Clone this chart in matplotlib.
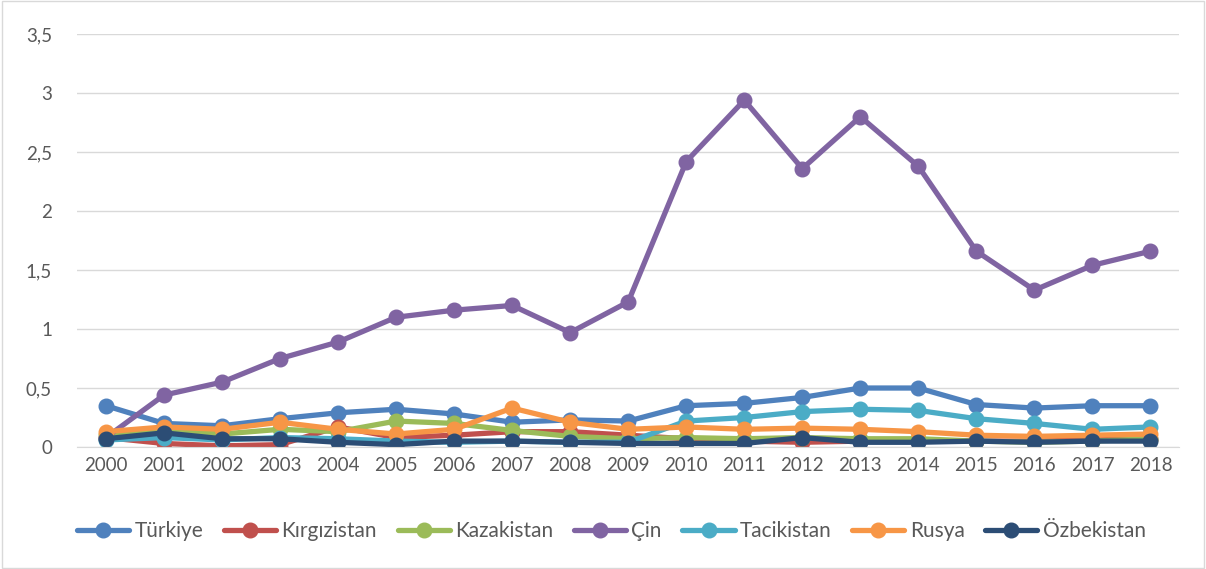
import matplotlib
matplotlib.use("Agg")
import matplotlib.pyplot as plt

plt.rcParams['font.family'] = ['Lato', 'DejaVu Sans']

years = [str(y) for y in range(2000, 2019)]
turkiye = [0.35, 0.20, 0.18, 0.24, 0.29, 0.32, 0.28, 0.21, 0.23, 0.22, 0.35, 0.37, 0.42, 0.50, 0.50, 0.36, 0.33, 0.35, 0.35]
kirgizistan = [0.08, 0.03, 0.01, 0.02, 0.17, 0.08, 0.10, 0.13, 0.13, 0.10, 0.07, 0.05, 0.04, 0.05, 0.05, 0.05, 0.05, 0.06, 0.07]
kazakistan = [0.10, 0.14, 0.11, 0.15, 0.13, 0.22, 0.20, 0.14, 0.09, 0.07, 0.08, 0.07, 0.08, 0.07, 0.07, 0.05, 0.04, 0.05, 0.07]
cin = [0.08, 0.44, 0.55, 0.75, 0.89, 1.10, 1.16, 1.20, 0.97, 1.23, 2.42, 2.94, 2.36, 2.80, 2.38, 1.66, 1.33, 1.54, 1.66]
tacikistan = [0.06, 0.08, 0.06, 0.08, 0.07, 0.05, 0.04, 0.05, 0.04, 0.04, 0.22, 0.25, 0.30, 0.32, 0.31, 0.24, 0.20, 0.15, 0.17]
rusya = [0.13, 0.17, 0.15, 0.21, 0.15, 0.11, 0.15, 0.33, 0.21, 0.15, 0.17, 0.15, 0.16, 0.15, 0.13, 0.10, 0.09, 0.10, 0.11]
ozbekistan = [0.07, 0.12, 0.07, 0.07, 0.04, 0.02, 0.05, 0.05, 0.04, 0.03, 0.03, 0.03, 0.08, 0.04, 0.04, 0.05, 0.04, 0.05, 0.05]

series = [
    ("Türkiye", turkiye, "#4F81BD"),
    ("Kırgızistan", kirgizistan, "#C0504D"),
    ("Kazakistan", kazakistan, "#9BBB59"),
    ("Çin", cin, "#8064A2"),
    ("Tacikistan", tacikistan, "#4BACC6"),
    ("Rusya", rusya, "#F79646"),
    ("Özbekistan", ozbekistan, "#2C4D75"),
]

fig = plt.figure(figsize=(12.06, 5.69), dpi=100)
ax = fig.add_axes([0.0638, 0.2144, 0.9142, 0.7256])
x = list(range(len(years)))
for name, vals, col in series:
    ax.plot(x, vals, color=col, lw=3.8, marker="o", markersize=10.5, label=name,
            solid_capstyle="round", solid_joinstyle="round")

ax.set_xlim(-0.5, len(years) - 0.5)
ax.set_ylim(0, 3.5)
ax.set_yticks([0, 0.5, 1, 1.5, 2, 2.5, 3, 3.5])
ax.set_yticklabels(["0", "0,5", "1", "1,5", "2", "2,5", "3", "3,5"])
ax.set_xticks(x)
ax.set_xticklabels(years)
ax.tick_params(axis="both", length=0, labelsize=13.5, colors="#595959", pad=7)
ax.tick_params(axis="y", pad=18)
ax.grid(axis="y", color="#D9D9D9", lw=1)
ax.set_axisbelow(True)
for s in ["top", "right", "left"]:
    ax.spines[s].set_visible(False)
ax.spines["bottom"].set_color("#D9D9D9")

leg = fig.legend(loc="center", bbox_to_anchor=(0.507, 0.067), ncol=7, frameon=False,
                 fontsize=15, handlelength=2.5, columnspacing=1.0, handletextpad=0.25)
for t in leg.get_texts():
    t.set_color("#595959")

fig.patches.append(plt.Rectangle((0.002, 0.002), 0.996, 0.996, transform=fig.transFigure,
                                 fill=False, edgecolor="#D9D9D9", lw=1))
fig.savefig("out.png", dpi=100, facecolor="white")
